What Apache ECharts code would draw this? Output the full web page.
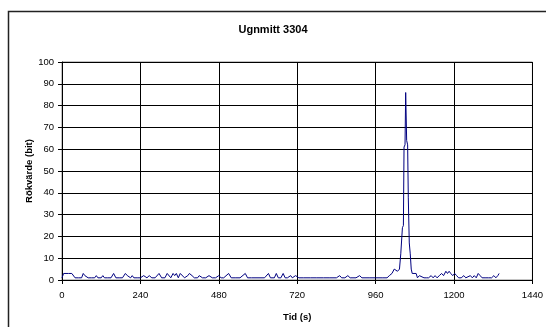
<!DOCTYPE html>
<html>
<head>
<meta charset="utf-8">
<script src="https://cdn.jsdelivr.net/npm/echarts@6/dist/echarts.min.js"></script>
<style>
html,body{margin:0;padding:0;background:#fff;}
#c{width:546px;height:327px;}
</style>
</head>
<body>
<div id="c"></div>
<script>
var titleText = "Ugnmitt 3304";
var xName = "Tid (s)";
var yName = "Rökvärde (bit)";
var times = [0,5,10,20,30,35,40,50,60,65,70,80,90,100,105,110,120,125,130,140,150,158,165,175,185,194,200,210,215,220,230,240,250,260,267,275,285,297,305,315,322,328,333,340,345,350,356,362,368,375,385,390,398,405,415,420,430,440,450,460,470,480,487,495,510,518,530,545,561,568,580,600,620,632,638,650,656,662,670,677,683,690,700,705,715,725,740,760,780,800,820,840,850,856,866,875,882,900,911,918,940,960,980,995,1002,1010,1017,1022,1027,1033,1037,1040,1042,1045,1047,1050,1052,1055,1058,1060,1063,1066,1069,1072,1078,1084,1088,1094,1100,1108,1115,1122,1130,1136,1142,1148,1155,1162,1168,1175,1180,1185,1190,1196,1202,1208,1214,1222,1230,1236,1242,1250,1256,1262,1268,1274,1280,1286,1295,1305,1315,1322,1328,1334,1338];
var values = [1,3,3,3,3,3,1,1,1,3,2,1,1,1,2,1,1,2,1,1,1,3,1,1,1,3,2,1,2,1,1,1,2,1,2,1,1,3,1,1,3,3,1,3,2,3,1,3,3,1,2,3,2,1,1,2,1,1,2,1,1,2,1,1,3,1,1,1,3,1,1,1,1,3,1,1,3,1,1,3,1,1,2,1,2,1,1,1,1,1,1,1,2,1,1,2,1,1,2,1,1,1,1,1,2,3,5,5,4,5,12,12,24,25,61,62,86,64,62,38,17,12,5,3,3,3,1,2,2,1,1,1,2,1,2,1,2,3,2,4,3,4,3,2,3,2,1,1,2,1,1,2,1,2,1,3,2,1,1,1,1,2,1,2,3];
var xMin = 0, xMax = 1440, xStep = 240;
var yMin = 0, yMax = 100, yStep = 10;

var pts = times.map(function(t,i){return [t, values[i]];});
var chart = echarts.init(document.getElementById('c'), null, {renderer:'canvas'});
var font = 'Liberation Sans, Arial, sans-serif';
chart.setOption({
  animation:false,
  backgroundColor:'#fff',
  graphic:[{type:'rect', shape:{x:8.5,y:11.5,width:700,height:500}, style:{fill:'none', stroke:'#222', lineWidth:1.5}, z:-1}],
  title:{text:titleText, left:'center', top:19, textStyle:{fontFamily:font, fontSize:11, fontWeight:'bold', color:'#000'}},
  grid:{left:62, top:62, right:10, bottom:47, show:true, borderColor:'#888', borderWidth:1},
  xAxis:{type:'value', min:xMin, max:xMax, interval:xStep,
    name:xName, nameLocation:'middle', nameGap:32, nameMoveOverlap:false,
    nameTextStyle:{fontFamily:font, fontSize:9.5, fontWeight:'bold', color:'#000'},
    axisLine:{lineStyle:{color:'#000', width:1}},
    axisTick:{show:true, length:4, lineStyle:{color:'#000'}},
    axisLabel:{fontFamily:font, fontSize:9.5, color:'#000', margin:10, formatter:function(v){return String(v);}},
    splitLine:{show:true, lineStyle:{color:'#000', width:1}}},
  yAxis:{type:'value', min:yMin, max:yMax, interval:yStep,
    name:yName, nameLocation:'middle', nameGap:28, nameRotate:90, nameMoveOverlap:false,
    nameTextStyle:{fontFamily:font, fontSize:9.5, fontWeight:'bold', color:'#000'},
    axisLine:{show:true, lineStyle:{color:'#000', width:1}},
    axisTick:{show:true, length:4, lineStyle:{color:'#000'}},
    axisLabel:{fontFamily:font, fontSize:9.5, color:'#000', margin:8, formatter:function(v){return String(v);}},
    splitLine:{show:true, lineStyle:{color:'#000', width:1}}},
  series:[{type:'line', data:pts, symbol:'none', lineStyle:{color:'#000080', width:1}, itemStyle:{color:'#000080'}}]
});
</script>
</body>
</html>
